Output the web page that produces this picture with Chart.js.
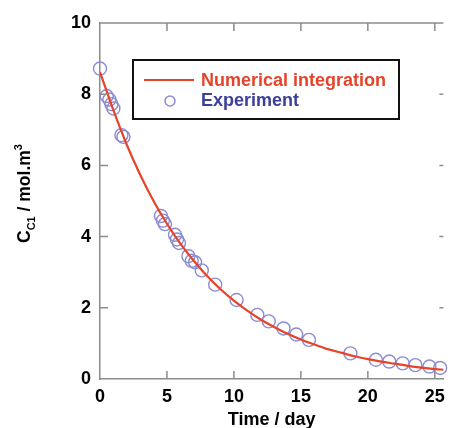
<!DOCTYPE html>
<html>
<head>
<meta charset="utf-8">
<script src="https://cdn.jsdelivr.net/npm/chart.js@4/dist/chart.umd.min.js"></script>
<style>
  html, body { margin: 0; padding: 0; background: #fff; }
  #wrap { width: 452px; height: 428px; }
</style>
</head>
<body>
<div id="wrap"><canvas id="grafico" width="452" height="428"></canvas></div>
<script>
// ---------------------------------------------------------
// dados
// ---------------------------------------------------------
const tempoExp = [0.0, 0.5, 0.7, 0.85, 1.0, 1.6, 1.75, 4.55, 4.7, 4.85, 5.6, 5.75, 5.9,
                  6.6, 6.85, 7.1, 7.6, 8.6, 10.2, 11.75, 12.6, 13.7, 14.65, 15.6,
                  18.7, 20.6, 21.6, 22.6, 23.55, 24.6, 25.4];
const concExp = [8.72, 7.95, 7.85, 7.72, 7.6, 6.85, 6.8, 4.58, 4.45, 4.35, 4.05, 3.92, 3.82,
                 3.45, 3.32, 3.28, 3.05, 2.65, 2.22, 1.8, 1.62, 1.42, 1.25, 1.1,
                 0.72, 0.54, 0.49, 0.44, 0.39, 0.35, 0.31];

const tempoNum = [0, 1, 2, 3, 4, 5, 6, 7, 8, 9, 10, 11, 12, 13, 14, 15, 16, 17, 18,
                  19, 20, 21, 22, 23, 24, 25, 25.7];
const concNum  = [8.62, 7.55, 6.58, 5.74, 5.0, 4.36, 3.8, 3.32, 2.89, 2.52, 2.2, 1.92,
                  1.67, 1.46, 1.27, 1.11, 0.97, 0.84, 0.74, 0.64, 0.56, 0.49, 0.43,
                  0.37, 0.32, 0.28, 0.26];

const X_TICKS = [0, 5, 10, 15, 20, 25];
const Y_TICKS = [0, 2, 4, 6, 8, 10];

const COR_LINHA = '#e6432b';
const COR_PONTO = '#8c8cd2';
const COR_EIXO = '#8c8c8c';
const FONTE = '"Liberation Sans", Arial, sans-serif';

// ---------------------------------------------------------
// plugin: moldura, ticks para dentro, legenda e titulo do eixo y
// ---------------------------------------------------------
const molduraPlugin = {
    id: 'moldura',
    afterDraw(chart) {
        const { ctx, chartArea: a } = chart;
        const sx = chart.scales.x, sy = chart.scales.y;
        const TL = 8;
        ctx.save();
        ctx.strokeStyle = COR_EIXO;
        ctx.lineWidth = 1.5;
        ctx.beginPath();
        ctx.moveTo(a.left, a.top);
        ctx.lineTo(a.right, a.top);
        X_TICKS.forEach(v => {
            if (v === 0) return;
            const px = sx.getPixelForValue(v);
            ctx.moveTo(px, a.bottom); ctx.lineTo(px, a.bottom - TL);
            ctx.moveTo(px, a.top); ctx.lineTo(px, a.top + TL);
        });
        Y_TICKS.forEach(v => {
            if (v === 0 || v === 10) return;
            const py = sy.getPixelForValue(v);
            ctx.moveTo(a.left, py); ctx.lineTo(a.left + TL, py);
            ctx.moveTo(a.right, py); ctx.lineTo(a.right - 4, py);
        });
        ctx.stroke();

        // legenda
        const d0 = chart.data.datasets[0], d1 = chart.data.datasets[1];
        ctx.strokeStyle = '#111';
        ctx.lineWidth = 2;
        ctx.strokeRect(133, 60, 266, 59);
        ctx.strokeStyle = COR_LINHA;
        ctx.beginPath();
        ctx.moveTo(144, 80); ctx.lineTo(194, 80);
        ctx.stroke();
        ctx.strokeStyle = COR_PONTO;
        ctx.lineWidth = 1.5;
        ctx.beginPath();
        ctx.arc(170, 101, 5, 0, Math.PI * 2);
        ctx.stroke();
        ctx.font = 'bold 18px ' + FONTE;
        ctx.textBaseline = 'middle';
        ctx.fillStyle = COR_LINHA;
        ctx.fillText(d0.label, 201, 81);
        ctx.fillStyle = '#3c409a';
        ctx.fillText(d1.label, 201, 101);

        // titulo eixo y: C_C1 / mol.m^3
        ctx.translate(30, 243);
        ctx.rotate(-Math.PI / 2);
        ctx.fillStyle = '#000';
        ctx.textBaseline = 'alphabetic';
        let x = 0;
        const partes = [
            ['C', 17.5, 0],
            ['C1', 11, 5],
            [' / mol.m', 17.5, 0],
            ['3', 11, -8]
        ];
        partes.forEach(([txt, tam, dy]) => {
            ctx.font = 'bold ' + tam + 'px ' + FONTE;
            ctx.fillText(txt, x, dy);
            x += ctx.measureText(txt).width;
        });
        ctx.restore();
    }
};

const ctx = document.getElementById('grafico');

new Chart(ctx, {
    type: 'scatter',
    data: {
        datasets: [
            {
                label: 'Numerical integration',
                data: tempoNum.map((t, i) => ({ x: t, y: concNum[i] })),
                showLine: true,
                borderColor: COR_LINHA,
                borderWidth: 2.2,
                pointRadius: 0,
                cubicInterpolationMode: 'monotone'
            },
            {
                label: 'Experiment',
                data: tempoExp.map((t, i) => ({ x: t, y: concExp[i] })),
                borderColor: COR_PONTO,
                backgroundColor: 'transparent',
                borderWidth: 1.4,
                pointRadius: 6.5,
                clip: false
            }
        ]
    },
    options: {
        responsive: false,
        animation: false,
        layout: { padding: { top: 23, right: 0, left: 0, bottom: 0 } },
        plugins: {
            legend: { display: false },
            tooltip: { enabled: false }
        },
        scales: {
            x: {
                type: 'linear',
                min: 0,
                max: 25.64,
                afterFit: s => { s.height = 49; },
                afterBuildTicks: s => { s.ticks = X_TICKS.map(v => ({ value: v })); },
                grid: { display: false, drawTicks: false },
                border: { display: true, color: COR_EIXO, width: 1.5 },
                ticks: { color: '#000', padding: 7, maxRotation: 0,
                         font: { family: FONTE, size: 18, weight: 'bold' } },
                title: { display: true, text: 'Time / day', color: '#000',
                         padding: { top: 0, bottom: -2.5 },
                         font: { family: FONTE, size: 18, weight: 'bold' } }
            },
            y: {
                min: 0,
                max: 10,
                afterFit: s => { s.width = 100; },
                afterBuildTicks: s => { s.ticks = Y_TICKS.map(v => ({ value: v })); },
                grid: { display: false, drawTicks: false },
                border: { display: true, color: COR_EIXO, width: 1.5 },
                ticks: { color: '#000', padding: 9,
                         font: { family: FONTE, size: 18, weight: 'bold' } }
            }
        }
    },
    plugins: [molduraPlugin]
});
</script>
</body>
</html>
